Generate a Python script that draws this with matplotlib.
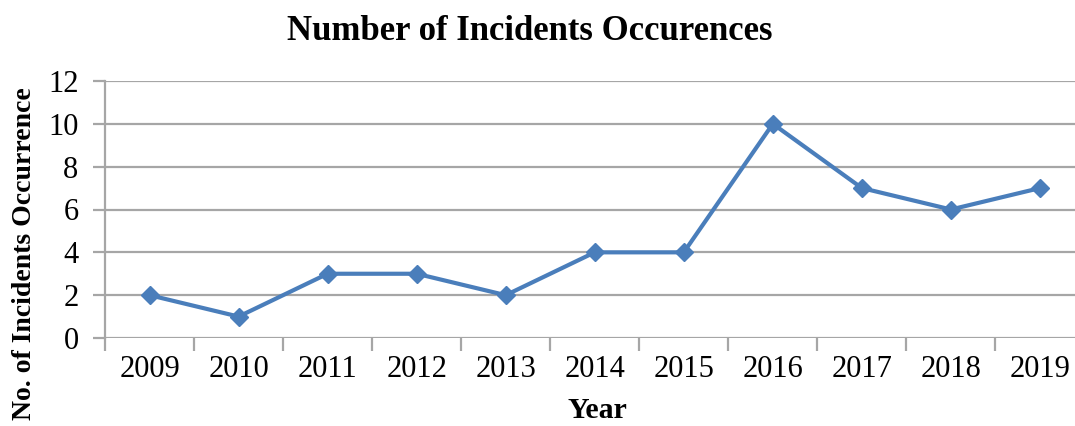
import matplotlib
matplotlib.use("Agg")
import matplotlib.pyplot as plt
import numpy as np

years = ["2009", "2010", "2011", "2012", "2013", "2014", "2015", "2016", "2017", "2018", "2019"]
incidents = [2, 1, 3, 3, 2, 4, 4, 10, 7, 6, 7]
y_ticks = [0, 2, 4, 6, 8, 10, 12]

plt.rcParams["font.family"] = ["Liberation Serif", "DejaVu Serif"]

fig = plt.figure(figsize=(10.75, 4.26), dpi=100)
ax = fig.add_axes([105 / 1075, 1 - 338 / 426, (1084.5 - 105) / 1075, (338 - 81) / 426])

x = np.arange(len(years))
ax.plot(x, incidents, color="#4A7EBB", linewidth=3, marker="D", markersize=9,
        markerfacecolor="#4A7EBB", markeredgecolor="#4A7EBB", zorder=3, clip_on=False)

ax.set_xlim(-0.5, len(years) - 0.5)
ax.set_ylim(0, 12)
ax.set_yticks(y_ticks)
ax.set_yticklabels([str(v) for v in y_ticks], fontsize=22)
ax.set_xticks(x)
ax.set_xticklabels(years, fontsize=22)
ax.set_xticks(np.arange(-0.5, len(years)), minor=True)

grid_color = "#A6A6A6"
ax.yaxis.grid(True, color=grid_color, linewidth=1.6)
ax.set_axisbelow(True)
for side in ["top", "right", "bottom"]:
    ax.spines[side].set_visible(False)
ax.spines["left"].set_color(grid_color)
ax.spines["left"].set_linewidth(1.6)

ax.tick_params(axis="y", direction="out", length=9, width=1.6, color=grid_color, pad=10)
ax.tick_params(axis="x", which="major", length=0, pad=12)
ax.tick_params(axis="x", which="minor", direction="out", length=9, width=1.6, color=grid_color)

fig.text(530 / 1075, 1 - 32 / 426, "Number of Incidents Occurences", ha="center", va="center",
         fontsize=25, fontweight="bold")
fig.text(597 / 1075, 1 - 410 / 426, "Year", ha="center", va="center", fontsize=21.5, fontweight="bold")
fig.text(25 / 1075, 1 - 254 / 426, "No. of Incidents Occurrence", ha="center", va="center",
         rotation=90, fontsize=20, fontweight="bold")

fig.savefig("out.png", dpi=100)
